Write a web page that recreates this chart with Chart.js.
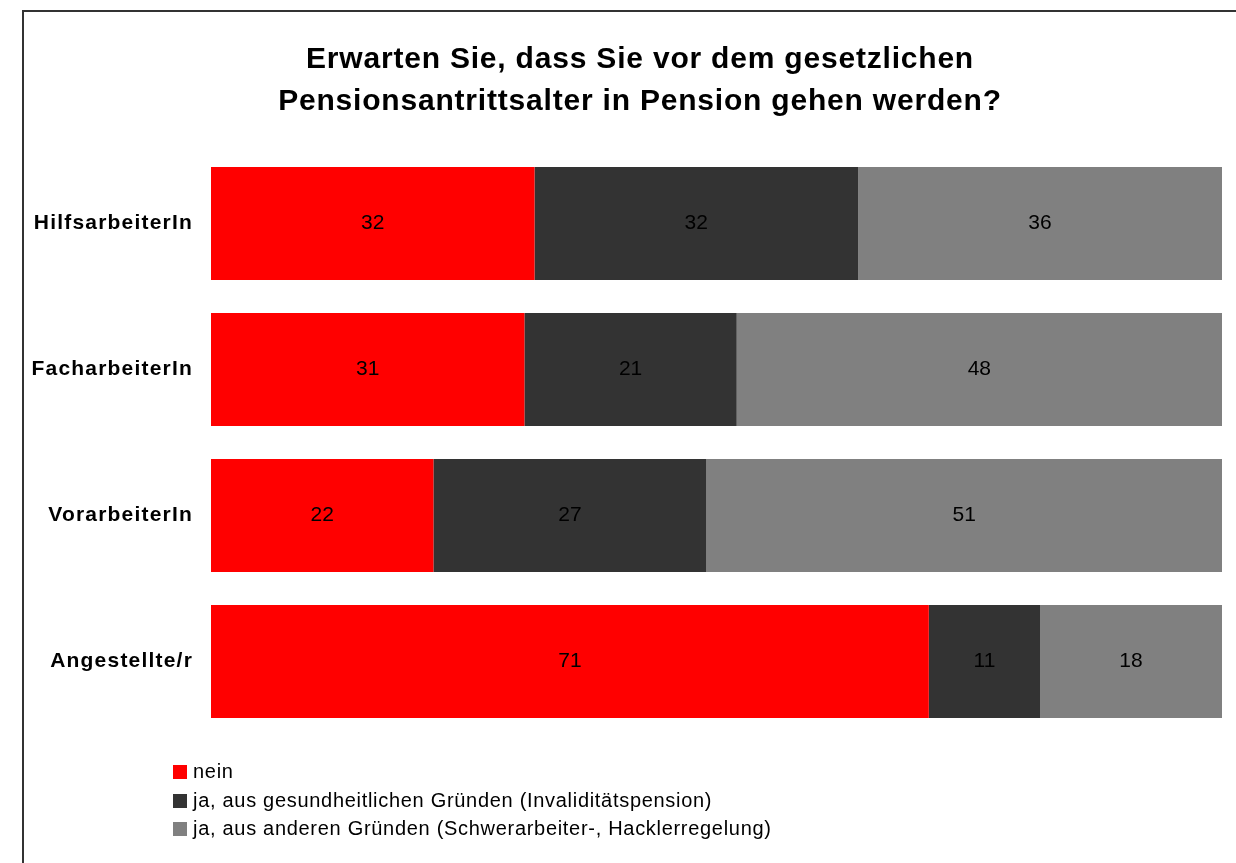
<!DOCTYPE html>
<html>
<head>
<meta charset="utf-8">
<script src="https://cdn.jsdelivr.net/npm/chart.js@4.4.1/dist/chart.umd.min.js"></script>
<style>
  html, body { margin: 0; padding: 0; background: #fff; overflow: hidden; }
  #wrap { position: relative; width: 1236px; height: 863px; }
  #frame { position: absolute; left: 22px; top: 10px; width: 1300px; height: 900px; border: 2px solid #333; box-sizing: border-box; }
  #chart { position: absolute; left: 0; top: 0; }
  #legend { position: absolute; left: 173px; top: 757px; font-family: Arial, "Liberation Sans", sans-serif; font-size: 20px; letter-spacing: 0.7px; color: #000; }
  #legend div { height: 28.5px; line-height: 28.5px; white-space: nowrap; }
  #legend span.box { display: inline-block; width: 14px; height: 14px; margin-right: 6px; vertical-align: -1px; }
</style>
</head>
<body>
<div id="wrap">
  <div id="frame"></div>
  <canvas id="chart" width="1236" height="863"></canvas>
  <div id="legend"></div>
</div>
<script>
// Daten
const categories = ['HilfsarbeiterIn', 'FacharbeiterIn', 'VorarbeiterIn', 'Angestellte/r'];
const nein = [32, 31, 22, 71];
const jaGesundheit = [32, 21, 27, 11];
const jaAndere = [36, 48, 51, 18];
const seriesNames = [
  'nein',
  'ja, aus gesundheitlichen Gründen (Invaliditätspension)',
  'ja, aus anderen Gründen (Schwerarbeiter-, Hacklerregelung)'
];
const seriesColors = ['#ff0000', '#333333', '#808080'];
const titleLines = ['Erwarten Sie, dass Sie vor dem gesetzlichen', 'Pensionsantrittsalter in Pension gehen werden?'];

const FONT = 'Arial, "Liberation Sans", sans-serif';

// Titel (zentriert auf die Seite, nicht auf die Plotfläche)
const headerTitle = {
  id: 'headerTitle',
  afterDraw(chart) {
    const ctx = chart.ctx;
    ctx.save();
    ctx.letterSpacing = '0.8px';
    ctx.font = 'bold 30px ' + FONT;
    ctx.fillStyle = '#000';
    ctx.textAlign = 'center';
    ctx.textBaseline = 'alphabetic';
    titleLines.forEach(function(line, i) {
      ctx.fillText(line, 640, 68 + i * 42);
    });
    ctx.restore();
  }
};

// etwas gesperrte Achsenbeschriftung
const spacing = {
  id: 'spacing',
  beforeDraw(chart) { chart.ctx.letterSpacing = '1.2px'; },
  afterDraw(chart) { chart.ctx.letterSpacing = '0px'; }
};

// Werte in die Balken schreiben
const valueLabels = {
  id: 'valueLabels',
  afterDatasetsDraw(chart) {
    const ctx = chart.ctx;
    ctx.save();
    ctx.letterSpacing = '0px';
    ctx.font = '21px ' + FONT;
    ctx.fillStyle = '#000';
    ctx.textAlign = 'center';
    ctx.textBaseline = 'middle';
    chart.data.datasets.forEach(function(ds, i) {
      chart.getDatasetMeta(i).data.forEach(function(el, j) {
        ctx.fillText(ds.data[j], (el.x + el.base) / 2, el.y);
      });
    });
    ctx.restore();
  }
};

const chart = new Chart(document.getElementById('chart'), {
  type: 'bar',
  data: {
    labels: categories,
    datasets: [nein, jaGesundheit, jaAndere].map(function(d, i) {
      return {
        label: seriesNames[i],
        data: d,
        backgroundColor: seriesColors[i],
        borderWidth: 0,
        categoryPercentage: 0.774,
        barPercentage: 1
      };
    })
  },
  options: {
    indexAxis: 'y',
    responsive: false,
    animation: false,
    layout: { padding: { top: 150.5, left: 0, right: 14, bottom: 128.5 } },
    scales: {
      x: { stacked: true, min: 0, max: 100, display: false },
      y: {
        stacked: true,
        grid: { display: false, drawTicks: false },
        border: { display: false },
        ticks: {
          color: '#000',
          padding: 18,
          font: { family: FONT, size: 21, weight: 'bold' }
        },
        afterFit(scale) { scale.width = 211; }
      }
    },
    plugins: {
      legend: { display: false },
      tooltip: { enabled: false },
      title: { display: false }
    }
  },
  plugins: [spacing, valueLabels, headerTitle]
});

// Legende untereinander
const legend = document.getElementById('legend');
seriesNames.forEach(function(name, i) {
  const row = document.createElement('div');
  const box = document.createElement('span');
  box.className = 'box';
  box.style.background = seriesColors[i];
  row.appendChild(box);
  row.appendChild(document.createTextNode(name));
  legend.appendChild(row);
});
</script>
</body>
</html>
